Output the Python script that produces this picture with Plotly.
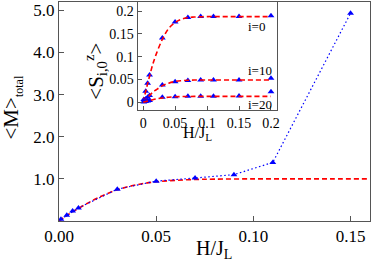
import plotly.graph_objects as go

# ---- main panel data ----
main_H = [0.001, 0.004, 0.007, 0.01, 0.03, 0.05, 0.07, 0.09, 0.11, 0.15]
main_M = [0.04, 0.135, 0.236, 0.31, 0.756, 0.946, 1.02, 1.10, 1.39, 4.93]
fit_H = [0, 0.005, 0.01, 0.015, 0.02, 0.03, 0.04, 0.05, 0.06, 0.07, 0.08, 0.1, 0.12, 0.14, 0.16]
fit_M = [0, 0.16, 0.30, 0.43, 0.55, 0.74, 0.86, 0.93, 0.965, 0.985, 0.993, 1.0, 1.0, 1.0, 1.0]

# ---- inset data ----
ins_H = [0.001, 0.004, 0.007, 0.01, 0.03, 0.05, 0.07, 0.09, 0.11, 0.15, 0.2]
ins_S0 = [0.006, 0.024, 0.042, 0.06, 0.141, 0.176, 0.186, 0.188, 0.188, 0.188, 0.19]
ins_S10 = [0.002, 0.007, 0.011, 0.015, 0.038, 0.045, 0.048, 0.049, 0.049, 0.049, 0.053]
ins_S20 = [0.0005, 0.002, 0.003, 0.004, 0.011, 0.012, 0.013, 0.013, 0.013, 0.014, 0.023]
ifit_H = [0, 0.005, 0.01, 0.015, 0.02, 0.03, 0.04, 0.05, 0.06, 0.07, 0.08, 0.1, 0.12, 0.15, 0.2]
ifit_S0 = [0, 0.03, 0.057, 0.083, 0.104, 0.138, 0.162, 0.175, 0.182, 0.186, 0.187, 0.188, 0.188, 0.188, 0.188]
ifit_S10 = [0, 0.008, 0.015, 0.022, 0.027, 0.036, 0.042, 0.0456, 0.0474, 0.0485, 0.0488, 0.049, 0.049, 0.049, 0.049]
ifit_S20 = [0, 0.002, 0.004, 0.0057, 0.0072, 0.0095, 0.0112, 0.0121, 0.0126, 0.0128, 0.0129, 0.013, 0.013, 0.013, 0.013]
ins_labels = ["i=0", "i=10", "i=20"]
ins_label_y = [0.167, 0.069, -0.005]

main_xticks = [0, 0.05, 0.10, 0.15]
main_xticktext = ["0.00", "0.05", "0.10", "0.15"]
main_yticks = [1, 2, 3, 4, 5]
main_yticktext = ["1.0", "2.0", "3.0", "4.0", "5.0"]
ins_ticks = [0, 0.05, 0.1, 0.15, 0.2]
ins_ticktext = ["0", "0.05", "0.1", "0.15", "0.2"]

RED = "#ff0000"
BLUE = "#0000ff"
FONT = "Liberation Serif"
AX = "#555555"

fig = go.Figure()
red_line = dict(color=RED, width=1.6, dash="5px,3px")
blue_line = dict(color=BLUE, width=1.2, dash="1.5px,2.5px")
mk = dict(symbol="triangle-up", size=6, color=BLUE)

fig.add_trace(go.Scatter(x=fit_H, y=fit_M, mode="lines", line=dict(shape="spline", **red_line),
                         xaxis="x", yaxis="y", showlegend=False))
fig.add_trace(go.Scatter(x=main_H, y=main_M, mode="lines+markers", line=blue_line, marker=mk,
                         xaxis="x", yaxis="y", showlegend=False))

for fy, sy in [(ifit_S0, ins_S0), (ifit_S10, ins_S10), (ifit_S20, ins_S20)]:
    fig.add_trace(go.Scatter(x=ins_H, y=sy, mode="markers", marker=mk,
                             xaxis="x2", yaxis="y2", showlegend=False))
    fig.add_trace(go.Scatter(x=ifit_H, y=fy, mode="lines", line=dict(shape="spline", **red_line),
                             xaxis="x2", yaxis="y2", showlegend=False))

def axstyle(size, ticklen):
    return dict(showline=True, linecolor=AX, linewidth=1, mirror=True, ticks="inside",
                tickcolor=AX, ticklen=ticklen, showgrid=False, zeroline=False,
                ticklabeloverflow="allow",
                tickfont=dict(family=FONT, size=size, color="black"))

fig.update_layout(
    width=374, height=264,
    margin=dict(l=59, r=1, t=1, b=43),
    paper_bgcolor="white", plot_bgcolor="white",
    xaxis=dict(range=[0, 0.16], tickvals=main_xticks, ticktext=main_xticktext,
               anchor="y", **axstyle(17, 5)),
    yaxis=dict(range=[0, 5.196], tickvals=main_yticks, ticktext=main_yticktext,
               anchor="x", **axstyle(17, 5)),
    xaxis2=dict(domain=[0.2525, 0.6997], anchor="y2", range=[-0.0088, 0.2088],
                tickvals=ins_ticks, ticktext=ins_ticktext, **axstyle(14, 4)),
    yaxis2=dict(domain=[0.5077, 1.0], anchor="x2", range=[-0.0165, 0.22],
                tickvals=ins_ticks, ticktext=ins_ticktext, **axstyle(14, 4)),
)

ann = []
ann.append(dict(text="H/J<sub>L</sub>", x=0.497, y=-0.128, xref="paper", yref="paper",
                showarrow=False, font=dict(family=FONT, size=20, color="black"),
                xanchor="center", yanchor="middle"))
ann.append(dict(text="&lt;M&gt;<sub><span style='font-size:12px'>total</span></sub>", x=-0.15, y=0.52,
                xref="paper", yref="paper",
                showarrow=False, textangle=-90, font=dict(family=FONT, size=21, color="black"),
                xanchor="center", yanchor="middle"))
ann.append(dict(text="H/J<sub>L</sub>", x=0.445, y=0.40, xref="paper", yref="paper",
                showarrow=False, font=dict(family=FONT, size=16, color="black"),
                xanchor="center", yanchor="middle"))
ann.append(dict(text="&lt;S<sub>i,0</sub><sup>z</sup>&gt;", x=0.118, y=0.685, xref="paper", yref="paper",
                showarrow=False, textangle=-90, font=dict(family=FONT, size=21, color="black"),
                xanchor="center", yanchor="middle"))
for lab, ly in zip(ins_labels, ins_label_y):
    ann.append(dict(text=lab, x=0.161, y=ly, xref="x2", yref="y2", showarrow=False,
                    font=dict(family=FONT, size=13, color="black"), xanchor="left", yanchor="middle"))
fig.update_layout(annotations=ann)

fig.write_html("out.html", config={"displayModeBar": False},
               post_script="document.body.style.margin='0';document.body.style.overflow='hidden';")
